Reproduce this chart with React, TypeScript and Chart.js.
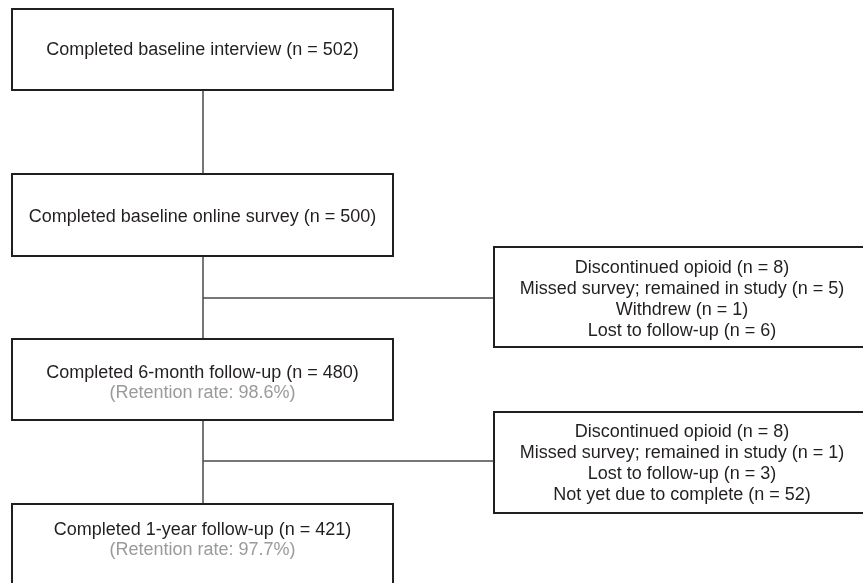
import React, { useEffect, useRef } from "react";
import { Chart, registerables } from "chart.js";

Chart.register(...registerables);

// ---- content ----
const mainLabels: string[] = [
  "Completed baseline interview (n = 502)",
  "Completed baseline online survey (n = 500)",
  "Completed 6-month follow-up (n = 480)",
  "Completed 1-year follow-up (n = 421)",
];
const retentionLabels: (string | null)[] = [
  null,
  null,
  "(Retention rate: 98.6%)",
  "(Retention rate: 97.7%)",
];
const exclusionAfter6m: string[] = [
  "Discontinued opioid (n = 8)",
  "Missed survey; remained in study (n = 5)",
  "Withdrew (n = 1)",
  "Lost to follow-up (n = 6)",
];
const exclusionAfter1y: string[] = [
  "Discontinued opioid (n = 8)",
  "Missed survey; remained in study (n = 1)",
  "Lost to follow-up (n = 3)",
  "Not yet due to complete (n = 52)",
];
const exclusionLabels: string[][] = [exclusionAfter6m, exclusionAfter1y];

// ---- layout (in scale units) ----
const mainX = { left: 12, right: 393, stem: 203 };
const mainTops = [9, 174, 339, 504];
const mainBottoms = [90, 256, 420, 620];
const mainTextCenters = [50, 217, 383, 540];
const sideX = { left: 494, right: 872 };
const sideTops = [247, 412];
const sideBottoms = [347, 513];
const sideTextCenters = [300, 463.5];
const branchY = [298, 461];
const lineGap = 21;

const FONT = '18px "Liberation Sans", Arial, sans-serif';
const DARK = "#231f20";
const GRAY = "#9a9a9a";
const LINE = "#4a4a4a";

const boxesPlugin = {
  id: "flowBoxes",
  afterDatasetsDraw(chart: any) {
    const { ctx } = chart;
    const xs = chart.scales.x;
    const ys = chart.scales.y;
    ctx.save();
    ctx.strokeStyle = DARK;
    ctx.lineWidth = 2;
    const rect = (l: number, t: number, r: number, b: number) => {
      const x0 = xs.getPixelForValue(l);
      const x1 = xs.getPixelForValue(r);
      const y0 = ys.getPixelForValue(t);
      const y1 = ys.getPixelForValue(b);
      ctx.strokeRect(x0, y0, x1 - x0, y1 - y0);
    };
    mainTops.forEach((t, i) => rect(mainX.left, t, mainX.right, mainBottoms[i]));
    sideTops.forEach((t, i) => rect(sideX.left, t, sideX.right, sideBottoms[i]));

    ctx.font = FONT;
    ctx.textAlign = "center";
    ctx.textBaseline = "middle";
    const cxMain = xs.getPixelForValue((mainX.left + mainX.right) / 2);
    mainLabels.forEach((label, i) => {
      const ret = retentionLabels[i];
      const c = mainTextCenters[i];
      if (ret) {
        ctx.fillStyle = DARK;
        ctx.fillText(label, cxMain, ys.getPixelForValue(c - lineGap / 2 + 0.5));
        ctx.fillStyle = GRAY;
        ctx.fillText(ret, cxMain, ys.getPixelForValue(c + lineGap / 2 - 0.5));
      } else {
        ctx.fillStyle = DARK;
        ctx.fillText(label, cxMain, ys.getPixelForValue(c));
      }
    });
    const cxSide = xs.getPixelForValue(682);
    exclusionLabels.forEach((lines, i) => {
      const c = sideTextCenters[i];
      const n = lines.length;
      ctx.fillStyle = DARK;
      lines.forEach((ln, j) => {
        const yv = c + (j - (n - 1) / 2) * lineGap;
        ctx.fillText(ln, cxSide, ys.getPixelForValue(yv));
      });
    });
    ctx.restore();
  },
};

const connectorStyle = {
  borderColor: LINE,
  borderWidth: 1.5,
  pointRadius: 0,
  showLine: true,
  fill: false,
  tension: 0,
};

export default function App() {
  const ref = useRef<HTMLCanvasElement | null>(null);
  useEffect(() => {
    document.body.style.margin = "0";
    if (!ref.current) return;
    const datasets: any[] = [];
    for (let i = 0; i < mainTops.length - 1; i++) {
      datasets.push({
        ...connectorStyle,
        data: [
          { x: mainX.stem, y: mainBottoms[i] },
          { x: mainX.stem, y: mainTops[i + 1] },
        ],
      });
    }
    branchY.forEach((by) => {
      datasets.push({
        ...connectorStyle,
        data: [
          { x: mainX.stem, y: by },
          { x: sideX.left, y: by },
        ],
      });
    });
    const chart = new Chart(ref.current, {
      type: "scatter",
      data: { datasets },
      options: {
        animation: false,
        responsive: true,
        maintainAspectRatio: false,
        layout: { padding: 0 },
        plugins: { legend: { display: false }, tooltip: { enabled: false } },
        events: [],
        scales: {
          x: { type: "linear", min: 0, max: 863, display: false },
          y: { type: "linear", min: 0, max: 583, reverse: true, display: false },
        },
      },
      plugins: [boxesPlugin],
    });
    return () => chart.destroy();
  }, []);
  return (
    <div style={{ position: "fixed", left: 0, top: 0, width: 863, height: 583, background: "#fff" }}>
      <canvas ref={ref} />
    </div>
  );
}
